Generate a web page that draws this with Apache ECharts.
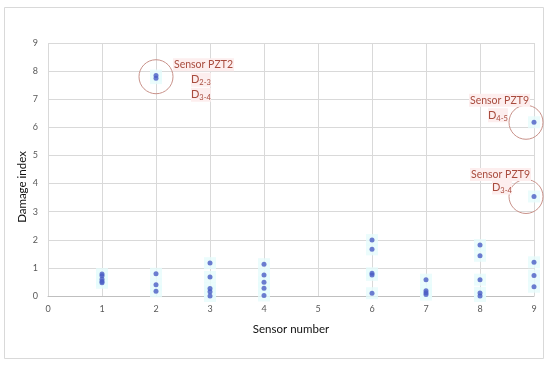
<!DOCTYPE html>
<html><head><meta charset="utf-8">
<script src="https://cdn.jsdelivr.net/npm/echarts@6/dist/echarts.min.js"></script>
<style>html,body{margin:0;padding:0;background:#fff}#c{width:550px;height:366px}</style>
</head><body><div id="c"></div>
<script>
var xTicks = [0,1,2,3,4,5,6,7,8,9];
var yTicks = [0,1,2,3,4,5,6,7,8,9];
var sensors1 = [1,1,1,1,1];
var values1 = [0.78,0.72,0.60,0.52,0.47];
var sensors2 = [2,2,2,2,2];
var values2 = [7.84,7.75,0.79,0.40,0.17];
var sensors3 = [3,3,3,3,3];
var values3 = [1.17,0.68,0.27,0.15,0.0];
var sensors4 = [4,4,4,4,4];
var values4 = [1.13,0.75,0.49,0.28,0.02];
var sensors6 = [6,6,6,6,6];
var values6 = [1.99,1.66,0.81,0.75,0.10];
var sensors7 = [7,7,7,7];
var values7 = [0.58,0.19,0.12,0.05];
var sensors8 = [8,8,8,8,8];
var values8 = [1.81,1.43,0.58,0.11,0.0];
var sensors9 = [9,9,9,9,9];
var values9 = [6.18,3.54,1.20,0.73,0.33];

var allS = [].concat(sensors1,sensors2,sensors3,sensors4,sensors6,sensors7,sensors8,sensors9);
var allV = [].concat(values1,values2,values3,values4,values6,values7,values8,values9);
var pts = allS.map(function(s,i){return [s, allV[i]];});

var font = 'Lato, "Open Sans", sans-serif';
var chart = echarts.init(document.getElementById('c'), null, {renderer:'canvas'});
var annColor = '#a84c3e';
var option = {
  animation:false,
  backgroundColor:'#fff',
  grid:{left:48,right:16,top:43,bottom:70,containLabel:false},
  xAxis:{type:'value',min:0,max:9,interval:1,
    name:'Sensor number',nameLocation:'middle',nameGap:27,
    nameTextStyle:{color:'#111',fontSize:11.5,fontFamily:font},
    axisLine:{show:true,lineStyle:{color:'#bfbfbf'}},
    axisTick:{show:false},
    axisLabel:{color:'#595959',fontSize:9,fontFamily:font,margin:9,formatter:function(v){return xTicks.indexOf(v)>=0?String(v):'';}},
    splitLine:{show:true,lineStyle:{color:'#d9d9d9'}}},
  yAxis:{type:'value',min:0,max:9,interval:1,
    axisLine:{show:false},axisTick:{show:false},
    axisLabel:{color:'#595959',fontSize:9,fontFamily:font,margin:10,formatter:function(v){return yTicks.indexOf(v)>=0?String(v):'';}},
    splitLine:{show:true,lineStyle:{color:'#d9d9d9'}}},
  series:[
    {type:'scatter',data:pts,symbol:'rect',symbolSize:[12,12],itemStyle:{color:'#e6fbfb'},z:1,silent:true},
    {type:'scatter',data:pts,symbol:'circle',symbolSize:5,itemStyle:{color:'#4a5cc4'},z:3}
  ]
};
chart.setOption(option);

function px(x,y){return chart.convertToPixel({gridIndex:0},[x,y]);}
var g = [];
g.push({type:'rect',shape:{x:4.5,y:7.5,width:539,height:351},style:{fill:null,stroke:'#d9d9d9',lineWidth:1},z:0});
g.push({type:'text',x:22,y:187,rotation:Math.PI/2,style:{text:'Damage index',fill:'#111',font:'11.5px '+font,align:'center',verticalAlign:'middle'},z:5});
function circle(x,y,dx,r){var p=px(x,y);g.push({type:'circle',shape:{cx:p[0]+dx,cy:p[1],r:r},style:{fill:null,stroke:'#c9928a',lineWidth:1},z:10});}
circle(2,7.8,0,17);
circle(9,6.18,-8,17);
circle(9,3.54,-8,17);
function label(x,y,txt,align){
  g.push({type:'text',x:x,y:y,style:{text:txt,fill:annColor,font:'10.5px '+font,align:align||'left',verticalAlign:'middle',backgroundColor:'#fdeeee',padding:[1,1]},z:11});
}
function dlabel(x,y,a,b){
  g.push({type:'text',x:x,y:y,style:{text:'{m|D}{s|'+a+'-'+b+'}',verticalAlign:'middle',backgroundColor:'#fdeeee',
    rich:{m:{fill:annColor,fontSize:11,fontFamily:font},s:{fill:annColor,fontSize:7.5,fontFamily:font,padding:[6,0,0,0]}}},z:11});
}
var a = px(2,7.8);
label(a[0]+17,a[1]-12,'Sensor PZT2');
dlabel(a[0]+35,a[1]+3,2,3);
dlabel(a[0]+35,a[1]+18,3,4);
var b = px(9,6.18);
label(b[0]-4,b[1]-22,'Sensor PZT9','right');
dlabel(b[0]-46,b[1]-7,4,5);
var c = px(9,3.54);
label(c[0]-3,c[1]-22,'Sensor PZT9','right');
dlabel(c[0]-42,c[1]-9,3,4);
chart.setOption({graphic:g});
</script></body></html>
